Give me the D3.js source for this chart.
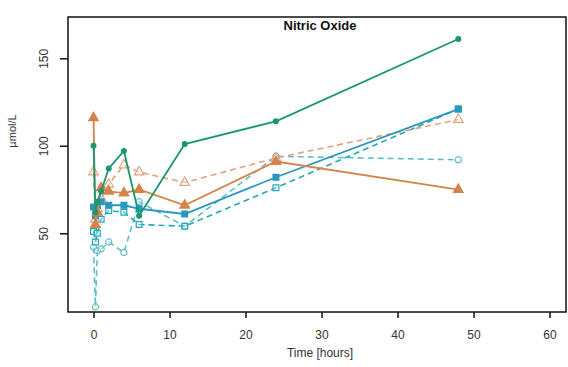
<!DOCTYPE html>
<html>
<head>
<meta charset="utf-8">
<script src="https://cdn.jsdelivr.net/npm/d3@7"></script>
<style>
  body { margin: 0; background: #fff; }
  svg { display: block; font-family: "Liberation Sans", Arial, sans-serif; }
</style>
</head>
<body>
<div class="svg-container"></div>
<script>
// sampling times (hours)
const times = [0, 0.25, 0.5, 1, 2, 4, 6, 12, 24, 48];

// values, µmol/L (null = no point)
const greenSolid   = [100, 62, 68, 74, 87, 97, 60, 101, 114, 161];
const orangeSolid  = [116, 55, 62, 76, 74, 73, 75, 66, 91, 75];
const orangeDashed = [85, 58, 64, 70, 78, 89, 85, 79, 93, 115];
const blueSolid    = [65, 60, 66, 68, 66, 66, 64, 61, 82, 121];
const tealDashed   = [51, 45, 50, 58, 63, 62, 55, 54, 76, 121];
const circleDashed = [42, 8, 40, 41, 45, 39, 68, 54, 94, 92];

const xTicks = [0, 10, 20, 30, 40, 50, 60];
const yTicks = [50, 100, 150];

const width = 568, height = 367;
const margin = {top: 17, right: 2, bottom: 55, left: 68};

const svg = d3.select(".svg-container").append("svg")
  .attr("width", width)
  .attr("height", height);

const xScale = d3.scaleLinear().domain([-3.36, 62.17]).range([margin.left, width - margin.right]);
const yScale = d3.scaleLinear().domain([5, 173.6]).range([height - margin.bottom, margin.top]);

const series = [
  {values: circleDashed, color: "#62bec6", dash: "6,4", shape: "circle", filled: false},
  {values: tealDashed,   color: "#22a9b9", dash: "6,4", shape: "square", filled: false},
  {values: orangeDashed, color: "#e2a27f", dash: "6,4", shape: "triangle", filled: false},
  {values: blueSolid,    color: "#2a97bf", dash: null,  shape: "square", filled: true},
  {values: orangeSolid,  color: "#d4834a", dash: null,  shape: "triangle", filled: true},
  {values: greenSolid,   color: "#1b9673", dash: null,  shape: "circle", filled: true}
];

const line = d3.line()
  .defined(d => d[1] != null)
  .x(d => xScale(d[0]))
  .y(d => yScale(d[1]));

for (const s of series) {
  const pts = times.map((t, i) => [t, s.values[i]]).filter(d => d[1] != null);
  svg.append("path")
    .datum(pts)
    .attr("d", line)
    .attr("fill", "none")
    .attr("stroke", s.color)
    .attr("stroke-width", s.dash ? 1.6 : 1.8)
    .attr("stroke-dasharray", s.dash);

  const sym = s.shape === "circle" ? d3.symbolCircle
    : s.shape === "square" ? d3.symbolSquare : d3.symbolTriangle;
  const size = s.shape === "circle" ? (s.filled ? 18 : 30)
    : s.shape === "square" ? 34 : 40;
  svg.selectAll(null)
    .data(pts)
    .enter().append("path")
    .attr("d", d3.symbol().type(sym).size(size))
    .attr("transform", d => `translate(${xScale(d[0])},${yScale(d[1])})`)
    .attr("fill", s.filled ? s.color : "#fff")
    .attr("fill-opacity", s.filled ? 1 : 0.3)
    .attr("stroke", s.color)
    .attr("stroke-width", 1.2);
}

// box
svg.append("rect")
  .attr("x", margin.left)
  .attr("y", margin.top)
  .attr("width", width - margin.right - margin.left)
  .attr("height", height - margin.bottom - margin.top)
  .attr("fill", "none")
  .attr("stroke", "#111")
  .attr("stroke-width", 1.5);

// x axis
const xAxis = d3.axisBottom(xScale).tickValues(xTicks).tickSize(6).tickSizeOuter(0).tickPadding(12);
const gx = svg.append("g")
  .attr("transform", `translate(0,${height - margin.bottom})`)
  .call(xAxis);
gx.select(".domain").remove();
gx.selectAll(".tick line").attr("stroke", "#111").attr("stroke-width", 1.5);
gx.selectAll(".tick text").attr("fill", "#333").style("font-size", "12px");

svg.append("text")
  .attr("x", 320)
  .attr("y", 357)
  .attr("text-anchor", "middle")
  .attr("fill", "#333")
  .style("font-size", "12px")
  .text("Time [hours]");

// y axis
const yAxis = d3.axisLeft(yScale).tickValues(yTicks).tickSize(8).tickSizeOuter(0).tickPadding(0);
const gy = svg.append("g")
  .attr("transform", `translate(${margin.left},0)`)
  .call(yAxis);
gy.select(".domain").remove();
gy.selectAll(".tick line").attr("stroke", "#111").attr("stroke-width", 1.5);
gy.selectAll(".tick text")
  .attr("fill", "#333")
  .style("font-size", "12px")
  .attr("text-anchor", "middle")
  .attr("dy", 0)
  .attr("x", 0)
  .attr("transform", "translate(-23,0) rotate(-90)")
  .attr("dominant-baseline", "middle");

svg.append("text")
  .attr("transform", "translate(16,131) rotate(-90)")
  .attr("text-anchor", "middle")
  .attr("fill", "#333")
  .style("font-size", "11px")
  .text("µmol/L");

// title
svg.append("text")
  .attr("x", 320)
  .attr("y", 30)
  .attr("text-anchor", "middle")
  .attr("fill", "#111")
  .style("font-size", "13px")
  .style("font-weight", "bold")
  .text("Nitric Oxide");
</script>
</body>
</html>
